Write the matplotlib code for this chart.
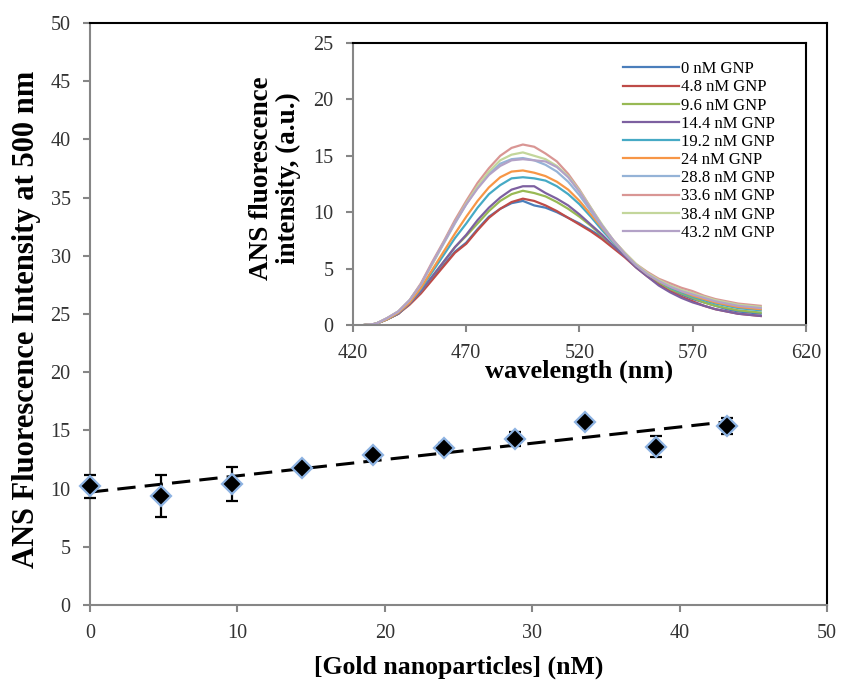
import matplotlib
matplotlib.use("Agg")
import matplotlib.pyplot as plt
import numpy as np

plt.rcParams['font.family'] = ['Liberation Serif', 'DejaVu Serif']

# ---------------- main data ----------------
gnp_conc = [0, 4.8, 9.6, 14.4, 19.2, 24, 28.8, 33.6, 38.4, 43.2]
intensity_500 = [10.2, 9.4, 10.4, 11.8, 12.9, 13.5, 14.3, 15.7, 13.6, 15.4]
intensity_err = [1.0, 1.8, 1.45, 0.3, 0.3, 0.4, 0.6, 0.3, 0.9, 0.7]

# ---------------- inset data ----------------
wavelength = [425, 430, 435, 440, 445, 450, 455, 460, 465, 470, 475, 480,
              485, 490, 495, 500, 505, 510, 515, 520, 525, 530, 535, 540,
              545, 550, 555, 560, 565, 570, 575, 580, 585, 590, 595, 600]
labels = ['0 nM GNP', '4.8 nM GNP', '9.6 nM GNP', '14.4 nM GNP', '19.2 nM GNP',
          '24 nM GNP', '28.8 nM GNP', '33.6 nM GNP', '38.4 nM GNP', '43.2 nM GNP']
spec_0 = [0.0, 0.1, 0.5, 1.0, 1.9, 2.9, 4.1, 5.3, 6.5, 7.3, 8.5, 9.6, 10.3, 10.8, 11.0, 10.6, 10.4, 10.0, 9.5, 9.0, 8.4, 7.8, 7.0, 6.2, 5.3, 4.5, 3.8, 3.2, 2.7, 2.3, 2.0, 1.7, 1.4, 1.2, 1.1, 1.0]
spec_4_8 = [0.0, 0.1, 0.5, 1.0, 1.8, 2.8, 4.0, 5.2, 6.4, 7.2, 8.4, 9.5, 10.3, 10.9, 11.2, 11.0, 10.6, 10.1, 9.5, 8.9, 8.3, 7.6, 6.8, 6.0, 5.1, 4.3, 3.6, 3.0, 2.5, 2.1, 1.7, 1.4, 1.2, 1.0, 0.9, 0.8]
spec_9_6 = [0.0, 0.1, 0.5, 1.0, 1.9, 3.0, 4.3, 5.6, 6.9, 7.9, 9.0, 10.1, 11.0, 11.6, 11.9, 11.7, 11.4, 10.9, 10.3, 9.6, 8.8, 7.9, 7.0, 6.2, 5.3, 4.5, 3.8, 3.2, 2.8, 2.4, 2.0, 1.7, 1.5, 1.3, 1.2, 1.1]
spec_14_4 = [0.0, 0.1, 0.5, 1.0, 1.9, 3.0, 4.3, 5.6, 6.9, 8.0, 9.3, 10.4, 11.3, 12.0, 12.3, 12.3, 11.7, 11.2, 10.6, 9.8, 8.9, 8.0, 7.0, 6.1, 5.1, 4.3, 3.5, 2.9, 2.4, 2.0, 1.7, 1.4, 1.2, 1.0, 0.9, 0.8]
spec_19_2 = [0.0, 0.1, 0.5, 1.1, 2.0, 3.2, 4.7, 6.2, 7.7, 9.0, 10.4, 11.6, 12.4, 13.0, 13.1, 13.0, 12.8, 12.3, 11.6, 10.7, 9.6, 8.4, 7.3, 6.3, 5.3, 4.5, 3.9, 3.3, 2.9, 2.5, 2.2, 1.9, 1.7, 1.5, 1.4, 1.3]
spec_24 = [0.0, 0.1, 0.5, 1.1, 2.0, 3.3, 4.9, 6.5, 8.1, 9.6, 11.0, 12.2, 13.1, 13.6, 13.7, 13.5, 13.2, 12.7, 12.0, 11.0, 9.8, 8.6, 7.4, 6.3, 5.3, 4.5, 3.9, 3.4, 3.0, 2.6, 2.3, 2.0, 1.8, 1.6, 1.5, 1.4]
spec_28_8 = [0.0, 0.1, 0.6, 1.2, 2.2, 3.6, 5.4, 7.2, 9.0, 10.7, 12.2, 13.4, 14.3, 14.7, 14.8, 14.6, 14.2, 13.6, 12.7, 11.5, 10.1, 8.7, 7.4, 6.3, 5.3, 4.6, 4.0, 3.5, 3.1, 2.8, 2.5, 2.2, 2.0, 1.8, 1.7, 1.6]
spec_33_6 = [0.0, 0.1, 0.6, 1.2, 2.2, 3.7, 5.6, 7.4, 9.3, 11.0, 12.6, 13.9, 15.0, 15.7, 16.0, 15.8, 15.2, 14.5, 13.4, 12.0, 10.4, 8.8, 7.5, 6.4, 5.4, 4.7, 4.1, 3.7, 3.3, 3.0, 2.6, 2.3, 2.1, 1.9, 1.8, 1.7]
spec_38_4 = [0.0, 0.1, 0.6, 1.2, 2.2, 3.6, 5.4, 7.3, 9.1, 10.8, 12.3, 13.6, 14.6, 15.1, 15.3, 15.0, 14.7, 14.1, 13.2, 11.9, 10.4, 8.9, 7.5, 6.4, 5.4, 4.6, 4.0, 3.5, 3.1, 2.8, 2.5, 2.2, 2.0, 1.8, 1.7, 1.6]
spec_43_2 = [0.0, 0.1, 0.6, 1.2, 2.2, 3.6, 5.5, 7.3, 9.1, 10.7, 12.1, 13.3, 14.1, 14.6, 14.7, 14.6, 14.5, 14.0, 13.1, 11.8, 10.3, 8.8, 7.5, 6.3, 5.3, 4.5, 3.9, 3.4, 3.0, 2.7, 2.4, 2.1, 1.9, 1.7, 1.6, 1.5]
spectra = [spec_0, spec_4_8, spec_9_6, spec_14_4, spec_19_2,
           spec_24, spec_28_8, spec_33_6, spec_38_4, spec_43_2]
colors = ['#4A7EBB', '#BE4B48', '#98B954', '#7D60A0', '#46AAC5',
          '#F79646', '#95B3D7', '#D99694', '#C3D69B', '#B3A2C7']

GRAY = '#868686'

fig = plt.figure(figsize=(8.42, 6.83), dpi=100)
ax = fig.add_axes([90/842, 1-605/683, (827-90)/842, (605-23)/683])

# trendline
coef = np.polyfit(gnp_conc, intensity_500, 1)
xt = np.array([min(gnp_conc), max(gnp_conc)])
ax.plot(xt, np.polyval(coef, xt), color='black', lw=2.2, ls=(0, (6, 3)), zorder=2)

ax.errorbar(gnp_conc, intensity_500, yerr=intensity_err, fmt='none',
            ecolor='black', elinewidth=1.6, capsize=4, capthick=1.6, zorder=3,
            clip_on=False)
ax.plot(gnp_conc, intensity_500, ls='none', marker='D', markersize=10,
        markerfacecolor='black', markeredgecolor='#8DB3E2', markeredgewidth=1.6,
        zorder=4, clip_on=False)

ax.set_xlim(0, 50)
ax.set_ylim(0, 50)
ax.set_xticks(range(0, 51, 10))
ax.set_yticks(range(0, 51, 5))
for s in ['left', 'bottom']:
    ax.spines[s].set_color(GRAY)
    ax.spines[s].set_linewidth(1.5)
for s in ['top', 'right']:
    ax.spines[s].set_color('black')
    ax.spines[s].set_linewidth(1.5)
ax.tick_params(direction='out', length=5, width=1.5, color=GRAY,
               labelsize=14.5, labelcolor='#333333', pad=9)
ax.set_xlabel('[Gold nanoparticles] (nM)', fontsize=18.5, fontweight='bold', labelpad=9)
ax.set_ylabel('ANS Fluorescence Intensity at 500 nm', fontsize=22, fontweight='bold')
ax.yaxis.set_label_coords(-0.066, 0.49)

# ---------------- inset ----------------
ins = fig.add_axes([353/842, 1-325/683, (806-353)/842, (325-43)/683])
ins.set_facecolor('white')
for spec, lab, c in zip(spectra, labels, colors):
    ins.plot(wavelength, spec, color=c, lw=1.6, label=lab)
ins.set_xlim(420, 620)
ins.set_ylim(0, 25)
ins.set_xticks(range(420, 621, 50))
ins.set_yticks(range(0, 26, 5))
for s in ['left', 'bottom']:
    ins.spines[s].set_color(GRAY)
    ins.spines[s].set_linewidth(1.5)
for s in ['top', 'right']:
    ins.spines[s].set_color('black')
    ins.spines[s].set_linewidth(1.5)
ins.tick_params(direction='out', length=5, width=1.5, color=GRAY,
                labelsize=14.5, labelcolor='#333333', pad=9)
ins.set_xlabel('wavelength (nm)', fontsize=19, fontweight='bold', labelpad=-3)
ins.set_ylabel('ANS fluorescence\nintensity, (a.u.)', fontsize=19.5, fontweight='bold',
               linespacing=1.1)
ins.yaxis.set_label_coords(-0.115, 0.52)
leg = ins.legend(loc='upper left', bbox_to_anchor=(0.595, 0.935), frameon=False,
                 fontsize=12, handlelength=3.4, handletextpad=0.1,
                 labelspacing=0.13, borderpad=0, borderaxespad=0)

fig.savefig('out.png', dpi=100)
